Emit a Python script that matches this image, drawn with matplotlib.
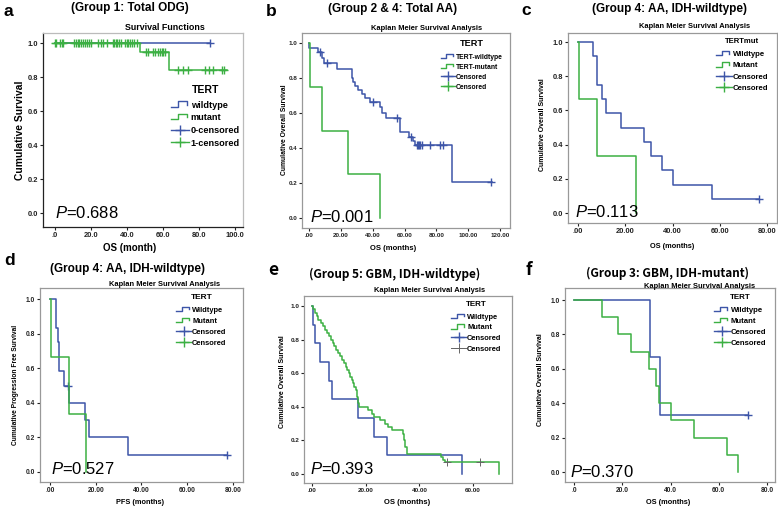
import numpy as np
import matplotlib
matplotlib.use('Agg')
import matplotlib.pyplot as plt
from matplotlib.lines import Line2D
from matplotlib.legend_handler import HandlerBase
from matplotlib.font_manager import FontProperties

plt.rcParams['font.family'] = ['Liberation Sans', 'DejaVu Sans']
plt.rcParams['mathtext.fontset'] = 'custom'
plt.rcParams['mathtext.it'] = 'Liberation Sans:italic'
plt.rcParams['mathtext.rm'] = 'Liberation Sans'

W, H = 778, 509
BLUE = '#3d55a8'
GREEN = '#3cb043'
GRAY = '#666666'

# ---- data: drop times, survival after each drop, last follow-up, censor times ----
# a: Group 1, total ODG
a_wt_t, a_wt_s, a_wt_end, a_wt_c = [], [], 86.1, [86.1]
a_mt_t = [47.2, 63.5]
a_mt_s = [0.945, 0.842]
a_mt_end = 95.5
a_mt_c = [0.0, 0.6, 2.8, 3.7, 4.6, 10.7, 11.7, 12.6, 13.5, 14.4, 15.4, 16.7, 17.6,
          19.1, 19.8, 24.1, 25.4, 26.9, 28.7, 32.0, 32.8, 33.9, 34.6, 35.7, 36.7,
          38.9, 39.8, 40.7, 41.7, 42.6, 43.9, 45.4, 50.6, 51.9, 54.3, 55.6, 57.4,
          58.3, 59.3, 60.2, 61.1, 68.5, 70.9, 74.1, 83.3, 85.7, 88.0, 92.6, 93.9]

# b: Group 2 & 4, total AA
b_wt_t = [0.3, 5.9, 8.0, 9.4, 17.8, 26.8, 27.8, 28.9, 31.0, 33.1, 35.2, 38.3, 44.6,
          45.6, 48.4, 56.9, 57.3, 62.5, 65.5, 66.5, 89.5]
b_wt_s = [0.973, 0.947, 0.912, 0.884, 0.851, 0.802, 0.779, 0.756, 0.731, 0.707, 0.684,
          0.661, 0.636, 0.598, 0.570, 0.531, 0.493, 0.465, 0.440, 0.415, 0.207]
b_wt_end = 115
b_wt_c = [6.9, 11.1, 40.0, 55.5, 64.0, 67.5, 68.3, 69.1, 70.0, 70.8, 76.0, 82.0, 84.0, 114.5]
b_mt_t = [0.5, 8.0, 24.3, 44.6]
b_mt_s = [0.75, 0.50, 0.25, 0.0]
b_mt_end, b_mt_c = 44.6, []

# c: Group 4, AA IDH-wildtype (OS)
c_wt_t = [6.5, 7.9, 8.2, 10.0, 11.7, 18.2, 28.1, 30.9, 35.4, 40.1, 56.9]
c_wt_s = [0.917, 0.833, 0.750, 0.667, 0.583, 0.500, 0.417, 0.333, 0.250, 0.167, 0.083]
c_wt_end, c_wt_c = 76.5, [76.5]
c_mt_t = [0.6, 8.2, 24.5]
c_mt_s = [0.667, 0.333, 0.0]
c_mt_end, c_mt_c = 24.5, []

# d: Group 4, AA IDH-wildtype (PFS)
d_wt_t = [2.8, 3.5, 3.9, 6.1, 8.3, 15.4, 16.9, 34.1]
d_wt_s = [0.833, 0.750, 0.583, 0.500, 0.400, 0.300, 0.200, 0.100]
d_wt_end, d_wt_c = 77.5, [7.9, 77.5]
d_mt_t = [0.3, 8.3, 15.9]
d_mt_s = [0.667, 0.333, 0.0]
d_mt_end, d_mt_c = 15.9, []

# e: Group 5, GBM IDH-wildtype
e_wt_t = [0.5, 1.0, 3.0, 6.5, 7.6, 17.0, 23.1, 27.8, 56.0]
e_wt_s = [0.889, 0.778, 0.667, 0.556, 0.444, 0.333, 0.222, 0.111, 0.0]
e_wt_end, e_wt_c = 56.0, []
e_mt_t = [0.5, 1.1, 1.7, 2.4, 3.2, 4.0, 4.8, 5.7, 6.5, 7.1, 7.7, 8.3, 8.9, 9.8, 10.4,
          11.3, 11.9, 12.5, 13.2, 13.8, 14.2, 14.8, 15.2, 15.6, 16.4, 16.9, 17.1, 17.4,
          21.0, 22.2, 23.1, 25.3, 27.2, 28.4, 29.7, 33.8, 34.3, 34.8, 35.3, 48.0, 48.9,
          49.6, 69.8]
e_mt_s = [0.98, 0.96, 0.94, 0.92, 0.90, 0.88, 0.86, 0.84, 0.82, 0.80, 0.78, 0.76, 0.74,
          0.72, 0.70, 0.68, 0.66, 0.64, 0.62, 0.60, 0.58, 0.56, 0.54, 0.52, 0.50, 0.46,
          0.42, 0.40, 0.38, 0.36, 0.34, 0.32, 0.30, 0.28, 0.26, 0.24, 0.20, 0.16, 0.12,
          0.10, 0.085, 0.07, 0.0]
e_mt_end, e_mt_c = 69.8, [50.2, 62.5]

# f: Group 3, GBM IDH-mutant
f_wt_t = [31.5, 35.6]
f_wt_s = [0.667, 0.333]
f_wt_end, f_wt_c = 72.0, [72.0]
f_mt_t = [11.7, 18.4, 23.6, 31.2, 34.0, 35.4, 40.2, 49.9, 63.3, 68.1]
f_mt_s = [0.9, 0.8, 0.7, 0.6, 0.5, 0.4, 0.3, 0.2, 0.1, 0.0]
f_mt_end, f_mt_c = 68.1, []


class StepHandler(HandlerBase):
    def create_artists(self, legend, orig, xd, yd, w, h, fs, trans):
        x0, y0 = -xd, -yd
        xs = [x0, x0 + 0.4 * w, x0 + 0.4 * w, x0 + 0.85 * w, x0 + 0.85 * w]
        ys = [y0 + 0.15 * h, y0 + 0.15 * h, y0 + 0.95 * h, y0 + 0.95 * h, y0 + 0.45 * h]
        ln = Line2D(xs, ys, color=orig.get_color(), lw=1.0, transform=trans)
        return [ln]


def rect(l, r, t, b):
    return [l / W, 1 - b / H, (r - l) / W, (b - t) / H]


def ftext(x, y, s, **kw):
    fig.text(x / W, 1 - y / H, s, **kw)


def km(ax, t, s, end, cens, color, ccolor=None, cms=6, cmw=1.0):
    t = np.asarray(t, float)
    s = np.asarray(s, float)
    lev = np.r_[1.0, s]
    x = np.r_[0.0, t, end]
    y = np.r_[lev, lev[-1]]
    ax.step(x, y, where='post', color=color, lw=1.1)
    if len(cens):
        cy = lev[np.searchsorted(t, cens, side='right')]
        ax.plot(cens, cy, '+', color=ccolor or color, ms=cms, mew=cmw, ls='none')


fig = plt.figure(figsize=(W / 100, H / 100), dpi=100)
fig.patch.set_facecolor('white')

panels = [
    dict(box=(43, 243, 33, 227), xlim=(-6.7, 104.4), ylim=(-0.082, 1.059),
         xt=[0, 20, 40, 60, 80, 100], xfmt='%.1f', tfs=5.4,
         wt=(a_wt_t, a_wt_s, a_wt_end, a_wt_c), mt=(a_mt_t, a_mt_s, a_mt_end, a_mt_c),
         letter='a', lpos=(4, 16), title='(Group 1: Total ODG)', tpos=(130, 8),
         sub='Survival Functions', spos=(165, 28), sfs=6.4,
         ylab='Cumulative Survival', ylpos=(20, 130), ylfs=7.4,
         xlab='OS (month)', xlpos=(130, 248), xlfs=7.0,
         p='0.688', ppos=(55, 218),
         leg_title='TERT', labels=['wildtype', 'mutant', '0-censored', '1-censored'],
         legpos=(171, 85), lfs=6.6, ltfs=7.6, lsp=0.4),
    dict(box=(302, 510, 33, 228), xlim=(-4.4, 126.2), ylim=(-0.057, 1.057),
         xt=[0, 20, 40, 60, 80, 100, 120], xfmt='%.2f', tfs=4.5,
         wt=(b_wt_t, b_wt_s, b_wt_end, b_wt_c), mt=(b_mt_t, b_mt_s, b_mt_end, b_mt_c),
         letter='b', lpos=(266, 16), title='(Group 2 & 4: Total AA)', tpos=(393, 9),
         sub='Kaplan Meier Survival Analysis', spos=(427, 28), sfs=5.4,
         ylab='Cumulative Overall Survival', ylpos=(284, 130), ylfs=4.9,
         xlab='OS (months)', xlpos=(393, 248), xlfs=5.5,
         p='0.001', ppos=(310, 222),
         leg_title='TERT', labels=['TERT-wildtype', 'TERT-mutant', 'Censored', 'Censored'],
         legpos=(441, 39), lfs=4.9, ltfs=6.6, lsp=0.45),
    dict(box=(568, 777, 33, 223), xlim=(-4.23, 84.2), ylim=(-0.058, 1.053),
         xt=[0, 20, 40, 60, 80], xfmt='%.2f', tfs=5.4,
         wt=(c_wt_t, c_wt_s, c_wt_end, c_wt_c), mt=(c_mt_t, c_mt_s, c_mt_end, c_mt_c),
         letter='c', lpos=(521, 15), title='(Group 4: AA, IDH-wildtype)', tpos=(670, 9),
         sub='Kaplan Meier Survival Analysis', spos=(695, 27), sfs=5.4,
         ylab='Cumulative Overall Survival', ylpos=(543, 125), ylfs=5.0,
         xlab='OS (months)', xlpos=(672, 246), xlfs=5.3,
         p='0.113', ppos=(575, 217),
         leg_title='TERTmut', labels=['Wildtype', 'Mutant', 'Censored', 'Censored'],
         legpos=(716, 38), lfs=5.6, ltfs=5.6, lsp=0.5),
    dict(box=(40, 243, 288, 482), xlim=(-4.37, 84.4), ylim=(-0.058, 1.064),
         xt=[0, 20, 40, 60, 80], xfmt='%.2f', tfs=4.8,
         wt=(d_wt_t, d_wt_s, d_wt_end, d_wt_c), mt=(d_mt_t, d_mt_s, d_mt_end, d_mt_c),
         letter='d', lpos=(4, 265), title='(Group 4: AA, IDH-wildtype)', tpos=(128, 269),
         sub='Kaplan Meier Survival Analysis', spos=(165, 285), sfs=5.4,
         ylab='Cumulative Progression Free Survival', ylpos=(16, 385), ylfs=4.8,
         xlab='PFS (months)', xlpos=(140, 503), xlfs=5.3,
         p='0.527', ppos=(51, 474),
         leg_title='TERT', labels=['Wildtype', 'Mutant', 'Censored', 'Censored'],
         legpos=(176, 294), lfs=5.4, ltfs=6.0, lsp=0.5),
    dict(box=(304, 512, 296, 483), xlim=(-2.98, 74.5), ylim=(-0.054, 1.06),
         xt=[0, 20, 40, 60], xfmt='%.2f', tfs=4.6,
         wt=(e_wt_t, e_wt_s, e_wt_end, e_wt_c), mt=(e_mt_t, e_mt_s, e_mt_end, e_mt_c),
         letter='e', lpos=(268, 275), title='(Group 5: GBM, IDH-wildtype)', tpos=(395, 274),
         sub='Kaplan Meier Survival Analysis', spos=(430, 290), sfs=5.4,
         ylab='Cumulative Overall Survival', ylpos=(283, 382), ylfs=5.0,
         xlab='OS (months)', xlpos=(407, 503), xlfs=5.5,
         p='0.393', ppos=(310, 474),
         leg_title='TERT', labels=['Wildtype', 'Mutant', 'Censored', 'Censored'],
         legpos=(451, 301), lfs=5.4, ltfs=5.8, lsp=0.45),
    dict(box=(565, 775, 288, 482), xlim=(-3.73, 83.3), ylim=(-0.058, 1.07),
         xt=[0, 20, 40, 60, 80], xfmt='%.1f', tfs=4.8,
         wt=(f_wt_t, f_wt_s, f_wt_end, f_wt_c), mt=(f_mt_t, f_mt_s, f_mt_end, f_mt_c),
         letter='f', lpos=(526, 275), title='(Group 3: GBM, IDH-mutant)', tpos=(668, 273),
         sub='Kaplan Meier Survival Analysis', spos=(700, 286), sfs=5.4,
         ylab='Cumulative Overall Survival', ylpos=(540, 380), ylfs=5.0,
         xlab='OS (months)', xlpos=(668, 503), xlfs=5.3,
         p='0.370', ppos=(570, 477),
         leg_title='TERT', labels=['Wildtype', 'Mutant', 'Censored', 'Censored'],
         legpos=(714, 294), lfs=5.6, ltfs=5.8, lsp=0.45),
]

for i, P in enumerate(panels):
    ax = fig.add_axes(rect(*P['box']))
    ax.set_xlim(*P['xlim'])
    ax.set_ylim(*P['ylim'])
    km(ax, *P['wt'], BLUE)
    if P['letter'] == 'e':
        km(ax, *P['mt'], GREEN, ccolor=GRAY, cms=6, cmw=0.7)
    else:
        km(ax, *P['mt'], GREEN)

    yt = np.arange(0, 1.01, 0.2)
    ax.set_yticks(yt)
    ax.set_yticklabels(['%.1f' % v for v in yt])
    ax.set_xticks(P['xt'])
    ax.set_xticklabels([(P['xfmt'] % v).lstrip('0') if v == 0 else P['xfmt'] % v
                        for v in P['xt']])
    ax.tick_params(direction='out', length=2.2, width=0.8, colors='#222222',
                   labelsize=P['tfs'], pad=1.2)
    for lab in ax.get_xticklabels() + ax.get_yticklabels():
        lab.set_fontweight('bold')
    for side in ['top', 'right', 'left', 'bottom']:
        ax.spines[side].set_color('#999999')
        ax.spines[side].set_linewidth(0.9)
    if i == 0:
        ax.spines['left'].set_color('#222222')
        ax.spines['bottom'].set_color('#222222')
        ax.spines['top'].set_color('#bbbbbb')
        ax.spines['right'].set_color('#bbbbbb')

    # legend
    ecase = P['letter'] == 'e'
    handles = [Line2D([], [], color=BLUE), Line2D([], [], color=GREEN),
               Line2D([], [], color=BLUE, marker='+', ms=7, mew=1.0, lw=1.0),
               Line2D([], [], color=GRAY if ecase else GREEN, marker='+', ms=7,
                      mew=0.7 if ecase else 1.0, lw=0.7 if ecase else 1.0)]
    lx, ly = P['legpos']
    leg = ax.legend(handles, P['labels'], title=P['leg_title'], loc='upper left',
                    bbox_to_anchor=(lx / W, 1 - ly / H), bbox_transform=fig.transFigure,
                    frameon=False, borderpad=0, borderaxespad=0,
                    handlelength=2.0, handletextpad=0.15, labelspacing=P['lsp'],
                    numpoints=1,
                    prop=FontProperties(family='Liberation Sans', weight='bold', size=P['lfs']),
                    title_fontproperties=FontProperties(family='Liberation Sans', weight='bold',
                                                        size=P['ltfs']),
                    handler_map={handles[0]: StepHandler(), handles[1]: StepHandler()})
    leg._legend_box.sep = 4

    fam = ['Noto Sans CJK KR', 'DejaVu Sans'] if P['letter'] in 'ef' else ['Liberation Sans']
    ftext(*P['lpos'], P['letter'], fontsize=12.5, fontweight='bold', family=fam, va='baseline')
    ftext(*P['tpos'], P['title'], fontsize=8.5, fontweight='bold', family=fam,
          ha='center', va='center')
    ftext(*P['spos'], P['sub'], fontsize=P['sfs'], fontweight='bold', ha='center', va='center')
    ftext(*P['ylpos'], P['ylab'], fontsize=P['ylfs'], fontweight='bold', rotation=90,
          ha='center', va='center')
    ftext(*P['xlpos'], P['xlab'], fontsize=P['xlfs'], fontweight='bold',
          ha='center', va='center')
    ftext(*P['ppos'], r'$\mathit{P}$=' + P['p'], fontsize=12, va='baseline', ha='left')

fig.savefig('out.png', dpi=100, facecolor='white')
